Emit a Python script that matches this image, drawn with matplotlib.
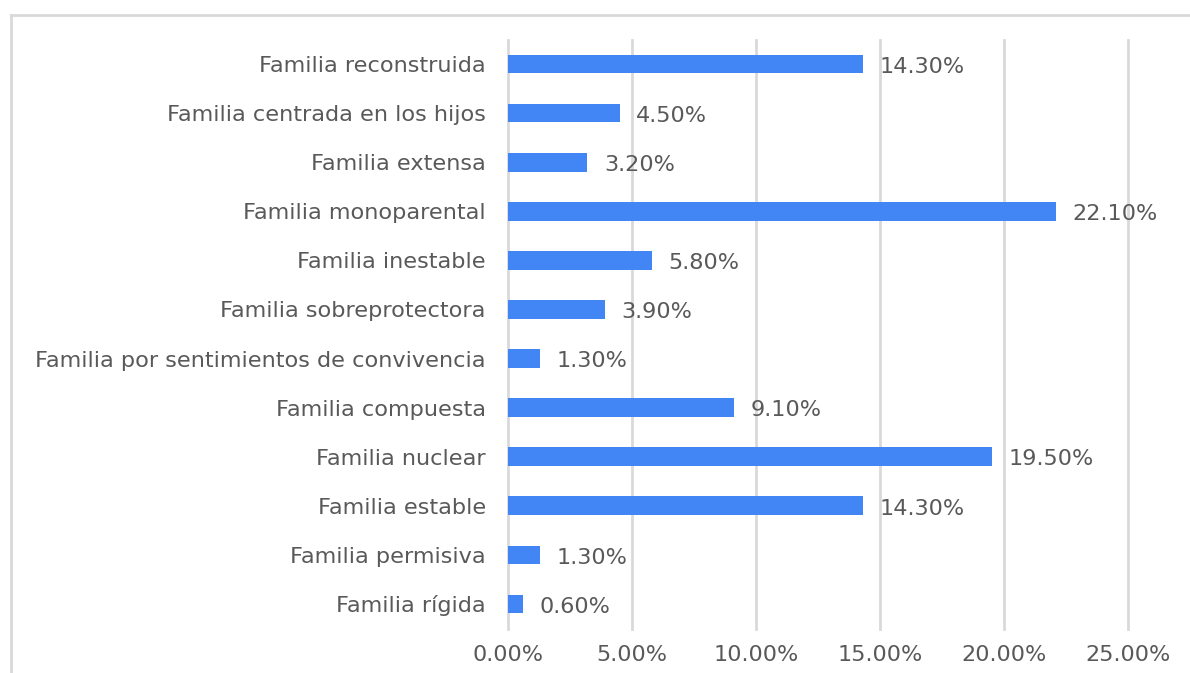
import matplotlib
matplotlib.use("Agg")
import matplotlib.pyplot as plt
from matplotlib.lines import Line2D
from matplotlib.ticker import FuncFormatter

categories = [
    "Familia reconstruida",
    "Familia centrada en los hijos",
    "Familia extensa",
    "Familia monoparental",
    "Familia inestable",
    "Familia sobreprotectora",
    "Familia por sentimientos de convivencia",
    "Familia compuesta",
    "Familia nuclear",
    "Familia estable",
    "Familia permisiva",
    "Familia rígida",
]
values = [14.3, 4.5, 3.2, 22.1, 5.8, 3.9, 1.3, 9.1, 19.5, 14.3, 1.3, 0.6]
xticks = [0, 5, 10, 15, 20, 25]

plt.rcParams['font.family'] = ['DejaVu Sans']
text_color = "#595959"
grid_color = "#d9d9d9"
bar_color = "#4285F4"
fs = 16.1

fig = plt.figure(figsize=(11.9, 6.73), dpi=100)
fig.patch.set_facecolor("white")
ax = fig.add_axes([0.4269, 0.0661, 0.5210, 0.8752])

ypos = list(range(len(categories)))
ax.barh(ypos, values, height=0.38, color=bar_color, zorder=3)
ax.set_ylim(len(categories) - 0.5, -0.5)
ax.set_xlim(0, 25)
ax.set_xticks(xticks)
ax.xaxis.set_major_formatter(FuncFormatter(lambda v, p: f"{v:.2f}%"))
ax.set_yticks(ypos)
ax.set_yticklabels(categories)

for s in ax.spines.values():
    s.set_visible(False)
ax.grid(axis="x", color=grid_color, linewidth=2, zorder=0)
for gl in ax.get_xgridlines():
    gl.set_clip_on(False)
ax.tick_params(axis="both", length=0, labelsize=fs, labelcolor=text_color)
ax.tick_params(axis="x", pad=12)
ax.tick_params(axis="y", pad=16)

for y, v in zip(ypos, values):
    ax.annotate(f"{v:.2f}%", xy=(v, y), xytext=(12, -2), textcoords="offset points",
                va="center", ha="left", fontsize=fs, color=text_color, zorder=4)

# outer frame lines (left and top)
fig.add_artist(Line2D([11/1190, 11/1190], [0, 1 - 15/673], transform=fig.transFigure,
                      color=grid_color, linewidth=2))
fig.add_artist(Line2D([11/1190, 1], [1 - 15/673, 1 - 15/673], transform=fig.transFigure,
                      color=grid_color, linewidth=2))

fig.savefig("out.png", dpi=100, facecolor="white")
